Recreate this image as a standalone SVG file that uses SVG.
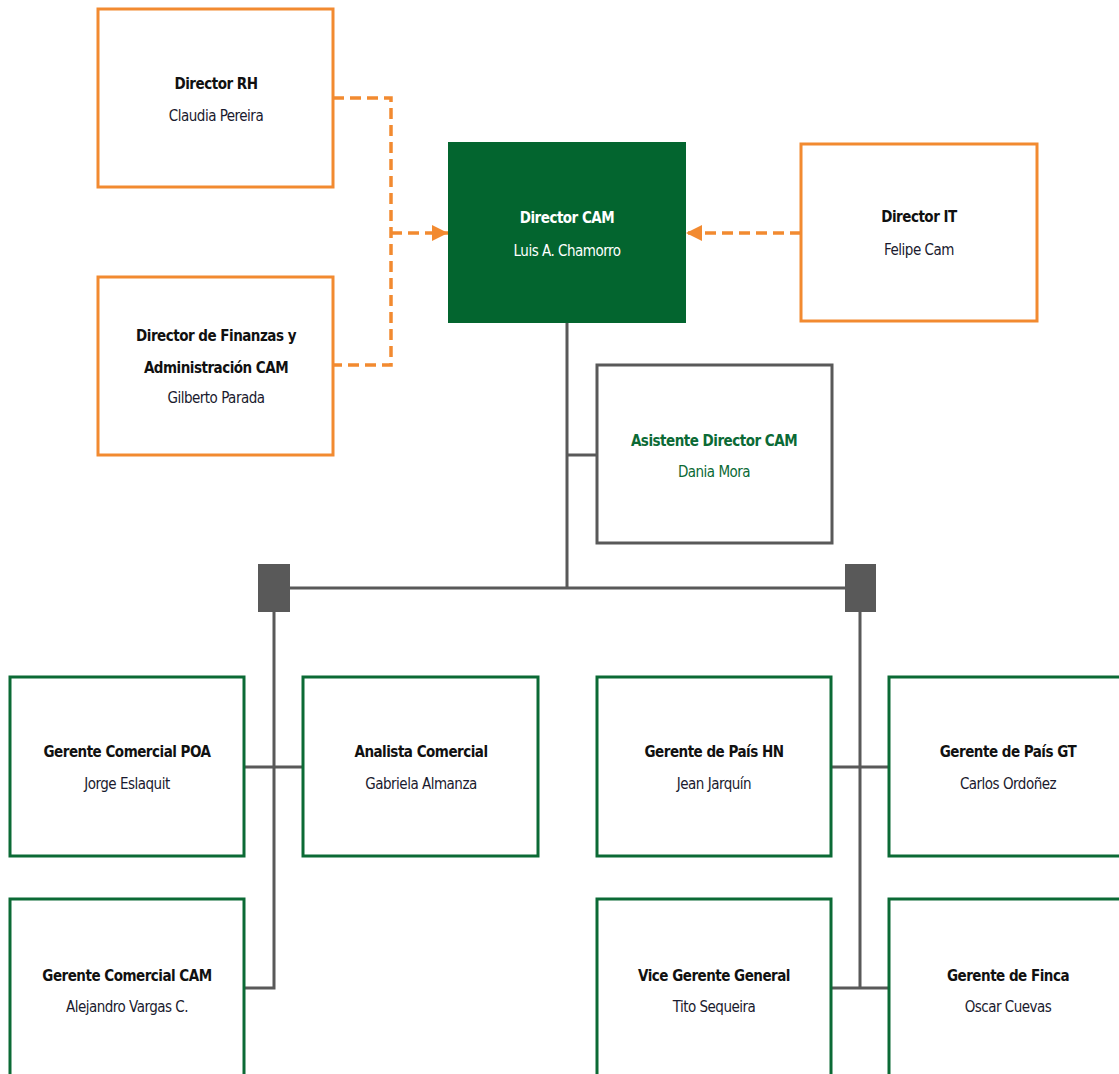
<svg xmlns="http://www.w3.org/2000/svg" width="1119" height="1074" viewBox="0 0 1119 1074">
<style>
text{font-family:"DejaVu Sans Condensed","Liberation Sans Narrow","Liberation Sans",sans-serif;font-size:15px;letter-spacing:-0.5px;text-anchor:middle;}
.t{font-weight:bold;fill:#111;}
.n{fill:#1a1a2e;}
.w{fill:#fff;}
.g{fill:#0b6a35;}
.ob{fill:#fff;stroke:#f28a30;stroke-width:3;}
.gb{fill:#fff;stroke:#0b6a35;stroke-width:3;}
.grb{fill:#fff;stroke:#595959;stroke-width:3;}
.dash{fill:none;stroke:#f28a30;stroke-width:3.5;stroke-dasharray:11 6;}
.ln{fill:none;stroke:#595959;stroke-width:3;}
.sq{fill:#595959;}
</style>
<defs>
<marker id="ah" markerWidth="16" markerHeight="16" refX="16" refY="8" orient="auto" markerUnits="userSpaceOnUse">
<path d="M0,0 L16,8 L0,16 Z" fill="#f28a30"/>
</marker>
</defs>
<g id="connectors">
<path class="dash" d="M333,98 H391 V365 H333"/>
<path class="dash" d="M391,233 H448" marker-end="url(#ah)"/>
<path class="dash" d="M801,233 H686" marker-end="url(#ah)"/>
<path class="ln" d="M567,322 V588"/>
<path class="ln" d="M567,455 H597"/>
<path class="ln" d="M274,588 H860"/>
<rect class="sq" x="258" y="564" width="32" height="48"/>
<rect class="sq" x="845" y="564" width="31" height="48"/>
<path class="ln" d="M274,612 V988 H244"/>
<path class="ln" d="M244,767 H303"/>
<path class="ln" d="M860,612 V988"/>
<path class="ln" d="M831,767 H889"/>
<path class="ln" d="M831,988 H889"/>
</g>
<g id="director-rh">
<rect class="ob" x="98" y="9" width="235" height="178"/>
<text class="t" x="216" y="89">Director RH</text>
<text class="n" x="216" y="121">Claudia Pereira</text>
</g>
<g id="director-finanzas">
<rect class="ob" x="98" y="277" width="235" height="178"/>
<text class="t" x="216" y="341">Director de Finanzas y</text>
<text class="t" x="216" y="373">Administración CAM</text>
<text class="n" x="216" y="403">Gilberto Parada</text>
</g>
<g id="director-cam">
<rect x="448" y="142" width="238" height="181" fill="#03652f"/>
<text class="t w" x="567" y="223">Director CAM</text>
<text class="w" x="567" y="256">Luis A. Chamorro</text>
</g>
<g id="director-it">
<rect class="ob" x="801" y="144" width="236" height="177"/>
<text class="t" x="919" y="222">Director IT</text>
<text class="n" x="919" y="255">Felipe Cam</text>
</g>
<g id="asistente">
<rect class="grb" x="597" y="365" width="235" height="178"/>
<text class="t g" x="714" y="446">Asistente Director CAM</text>
<text class="g" x="714" y="477">Dania Mora</text>
</g>
<g id="gerente-poa">
<rect class="gb" x="10" y="677" width="234" height="179"/>
<text class="t" x="127" y="757">Gerente Comercial POA</text>
<text class="n" x="127" y="789">Jorge Eslaquit</text>
</g>
<g id="analista">
<rect class="gb" x="303" y="677" width="235" height="179"/>
<text class="t" x="421" y="757">Analista Comercial</text>
<text class="n" x="421" y="789">Gabriela Almanza</text>
</g>
<g id="gerente-hn">
<rect class="gb" x="597" y="677" width="234" height="179"/>
<text class="t" x="714" y="757">Gerente de País HN</text>
<text class="n" x="714" y="789">Jean Jarquín</text>
</g>
<g id="gerente-gt">
<rect class="gb" x="889" y="677" width="240" height="179"/>
<text class="t" x="1008" y="757">Gerente de País GT</text>
<text class="n" x="1008" y="789">Carlos Ordoñez</text>
</g>
<g id="gerente-cam">
<rect class="gb" x="10" y="899" width="234" height="190"/>
<text class="t" x="127" y="981">Gerente Comercial CAM</text>
<text class="n" x="127" y="1012">Alejandro Vargas C.</text>
</g>
<g id="vice-gerente">
<rect class="gb" x="597" y="899" width="234" height="190"/>
<text class="t" x="714" y="981">Vice Gerente General</text>
<text class="n" x="714" y="1012">Tito Sequeira</text>
</g>
<g id="gerente-finca">
<rect class="gb" x="889" y="899" width="240" height="190"/>
<text class="t" x="1008" y="981">Gerente de Finca</text>
<text class="n" x="1008" y="1012">Oscar Cuevas</text>
</g>
</svg>
